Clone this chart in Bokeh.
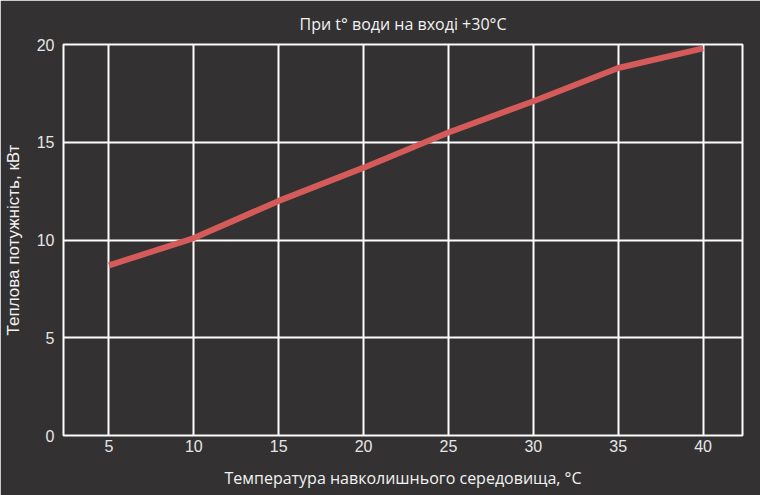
from bokeh.plotting import figure
from bokeh.models import FixedTicker, Range1d
from bokeh.embed import file_html
from bokeh.resources import INLINE

# outdoor temperature, C
temps = [5, 10, 15, 20, 25, 30, 35, 40]
# heat output, kW (water inlet +30 C)
power = [8.7, 10.1, 12.0, 13.7, 15.5, 17.1, 18.8, 19.8]

x_ticks = [5, 10, 15, 20, 25, 30, 35, 40]
y_ticks = [0, 5, 10, 15, 20]

bg = '#333132'
fg = '#f2f2f2'

p = figure(width=760, height=495, output_backend='svg', toolbar_location=None,
           x_range=Range1d(2.32, 42.32), y_range=Range1d(0, 20),
           min_border_left=62, min_border_right=18, min_border_top=44, min_border_bottom=60)

p.background_fill_color = bg
p.border_fill_color = bg
p.outline_line_color = 'white'
p.outline_line_width = 2

p.title.text = 'При t° води на вході +30°C'
p.title.align = 'center'
p.title.text_color = fg
p.title.text_font = 'Open Sans'
p.title.text_font_size = '16px'
p.title.text_font_style = 'normal'
p.title.standoff = 20

p.line(temps, power, line_color='#d55a5a', line_width=6)

p.xaxis.ticker = FixedTicker(ticks=x_ticks)
p.yaxis.ticker = FixedTicker(ticks=y_ticks)
p.xgrid.ticker = FixedTicker(ticks=x_ticks)
p.ygrid.ticker = FixedTicker(ticks=y_ticks)
p.grid.grid_line_color = 'white'
p.grid.grid_line_width = 2
p.grid.grid_line_alpha = 1.0

for ax in (p.xaxis, p.yaxis):
    ax.axis_line_color = None
    ax.major_tick_line_color = None
    ax.minor_tick_line_color = None
    ax.major_tick_out = 0
    ax.major_tick_in = 0
    ax.minor_tick_out = 0
    ax.major_label_text_color = '#e6e6e6'
    ax.major_label_text_font = 'Liberation Sans'
    ax.major_label_text_font_size = '16px'
    ax.axis_label_text_color = fg
    ax.axis_label_text_font_style = 'normal'

p.xaxis.axis_label = 'Температура навколишнього середовища, °C'
p.xaxis.axis_label_text_font = 'Open Sans'
p.xaxis.axis_label_text_font_size = '16px'
p.xaxis.major_label_standoff = 4
p.xaxis.axis_label_standoff = 12

p.yaxis.axis_label = 'Теплова потужність, кВт'
p.yaxis.axis_label_text_font = 'Liberation Sans'
p.yaxis.axis_label_text_font_size = '17px'
p.yaxis.major_label_standoff = 9
p.yaxis.axis_label_standoff = 11

open('out.html', 'w').write(file_html(p, INLINE))
